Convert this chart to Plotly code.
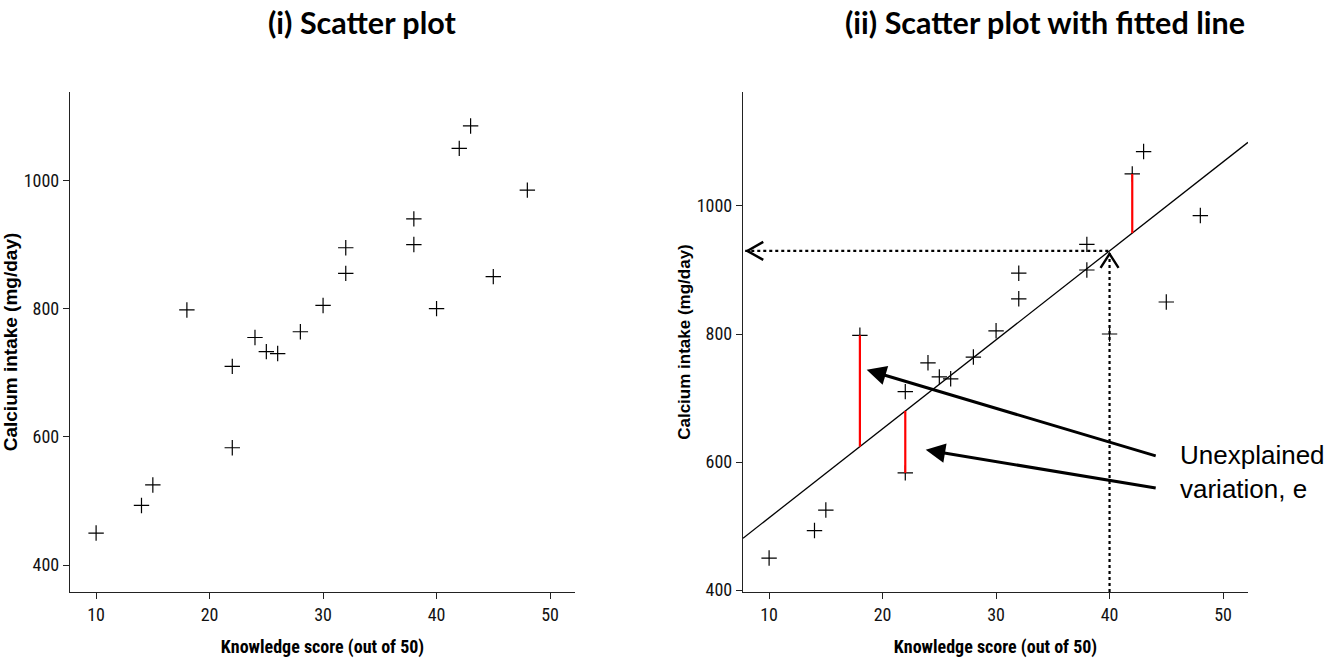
import numpy as np
import plotly.graph_objects as go

# ---- data ----
knowledge = [10, 14, 15, 18, 22, 22, 24, 25, 26, 28, 30, 32, 32, 38, 38, 40, 42, 43, 45, 48]
calcium = [450, 493, 525, 798, 710, 583, 755, 733, 730, 764, 805, 895, 855, 940, 900, 800, 1050, 1085, 850, 985]
x_ticks = [10, 20, 30, 40, 50]
y_ticks = [400, 600, 800, 1000]
residual_x = [18, 22, 42]
residual_y = [798, 583, 1050]
predict_x = 40

x_range = [7.7, 52.2]
y_range_left = [358, 1138]
y_range_right = [397, 1178]

slope, intercept = np.polyfit(knowledge, calcium, 1)
predict_y = slope * predict_x + intercept

W, H = 1342, 658
def fx(p):
    return p / W
def fy(p):
    return 1 - p / H

narrow = "Liberation Sans Narrow, Arial Narrow, Roboto Condensed, DejaVu Sans Condensed, sans-serif"
bold_font = "Liberation Sans, Arial, sans-serif"

fig = go.Figure()

marker = dict(symbol="cross-thin", size=11, line=dict(color="black", width=1.2), color="black")

fig.add_trace(go.Scatter(x=knowledge, y=calcium, mode="markers", marker=marker,
                         xaxis="x", yaxis="y", showlegend=False))
fig.add_trace(go.Scatter(x=knowledge, y=calcium, mode="markers", marker=marker,
                         xaxis="x2", yaxis="y2", showlegend=False))

fit_x = np.array(x_range)
fig.add_trace(go.Scatter(x=fit_x, y=slope * fit_x + intercept, mode="lines",
                         line=dict(color="black", width=1.3),
                         xaxis="x2", yaxis="y2", showlegend=False))

for rx, ry in zip(residual_x, residual_y):
    fig.add_trace(go.Scatter(x=[rx, rx], y=[ry, slope * rx + intercept], mode="lines",
                             line=dict(color="#ff0000", width=2.2),
                             xaxis="x2", yaxis="y2", showlegend=False))

fig.add_shape(type="line", xref="x2", yref="y2", x0=x_range[0] + 0.2, x1=predict_x,
              y0=predict_y, y1=predict_y, line=dict(color="black", width=2.2, dash="dot"))
fig.add_shape(type="line", xref="x2", yref="y2", x0=predict_x, x1=predict_x,
              y0=y_range_right[0], y1=predict_y, line=dict(color="black", width=2.2, dash="dot"))
fig.add_shape(type="path", xref="x2", yref="y2", xsizemode="pixel", ysizemode="pixel",
              xanchor=x_range[0] + 0.2, yanchor=predict_y,
              path="M 18,9 L 2,0 L 18,-9", line=dict(color="black", width=2.4))
fig.add_shape(type="path", xref="x2", yref="y2", xsizemode="pixel", ysizemode="pixel",
              xanchor=predict_x, yanchor=predict_y,
              path="M -9,-17 L 0,-3 L 9,-17", line=dict(color="black", width=2.4))

fig.add_annotation(xref="x2", yref="y2", axref="x2", ayref="y2",
                   x=18.6, y=744, ax=44.2, ay=609, text="", showarrow=True,
                   arrowhead=2, arrowsize=1.3, arrowwidth=3, arrowcolor="black")
fig.add_annotation(xref="x2", yref="y2", axref="x2", ayref="y2",
                   x=23.8, y=619, ax=44.2, ay=559, text="", showarrow=True,
                   arrowhead=2, arrowsize=1.3, arrowwidth=3, arrowcolor="black")
fig.add_annotation(xref="paper", yref="paper", x=fx(1178), y=fy(472), xanchor="left", yanchor="middle",
                   text="Unexplained<br>variation, e", showarrow=False, align="left",
                   font=dict(family="Liberation Sans, Arial, sans-serif", size=26, color="black"))

fig.add_annotation(xref="paper", yref="paper", x=fx(362), y=fy(22), xanchor="center", yanchor="middle",
                   text="<b>(i) Scatter plot</b>", showarrow=False,
                   font=dict(family="Lato, Open Sans, sans-serif", size=30.5, color="black"))
fig.add_annotation(xref="paper", yref="paper", x=fx(1045), y=fy(22), xanchor="center", yanchor="middle",
                   text="<b>(ii) Scatter plot with fitted line</b>", showarrow=False,
                   font=dict(family="Lato, Open Sans, sans-serif", size=30.5, color="black"))

axis_common = dict(showgrid=False, zeroline=False, showline=True, linecolor="#222", linewidth=1.3,
                   ticks="outside", ticklen=6, tickcolor="#222", tickwidth=1.3, automargin=False,
                   tickfont=dict(family=narrow, size=18, color="#111"), mirror=False, fixedrange=True)

fig.update_layout(
    width=W, height=H, margin=dict(l=0, r=0, t=0, b=0, autoexpand=False),
    paper_bgcolor="white", plot_bgcolor="white", showlegend=False,
    xaxis=dict(domain=[fx(70), fx(575)], range=x_range, tickvals=x_ticks, anchor="y",
               title=dict(text="<b>Knowledge score (out of 50)</b>", standoff=16,
                          font=dict(family=narrow, size=18, color="black")), **axis_common),
    yaxis=dict(domain=[fy(592), fy(92)], range=y_range_left, tickvals=y_ticks, anchor="x",
               title=dict(text="<b>Calcium intake (mg/day)</b>", standoff=3,
                          font=dict(family=bold_font, size=19, color="black")), **axis_common),
    xaxis2=dict(domain=[fx(743), fx(1248)], range=x_range, tickvals=x_ticks, anchor="y2",
                title=dict(text="<b>Knowledge score (out of 50)</b>", standoff=16,
                           font=dict(family=narrow, size=18, color="black")), **axis_common),
    yaxis2=dict(domain=[fy(592), fy(92)], range=y_range_right, tickvals=y_ticks, anchor="x2",
                title=dict(text="<b>Calcium intake (mg/day)</b>", standoff=1,
                           font=dict(family=bold_font, size=17, color="black")), **axis_common),
)

fig.write_html("out.html", config={"displayModeBar": False})

# remove default page margin so the figure sits at the window origin
with open("out.html", "r", encoding="utf-8") as f:
    html = f.read()
html = html.replace("<head>", "<head><style>html,body{margin:0;padding:0;overflow:hidden;}</style>", 1)
with open("out.html", "w", encoding="utf-8") as f:
    f.write(html)
